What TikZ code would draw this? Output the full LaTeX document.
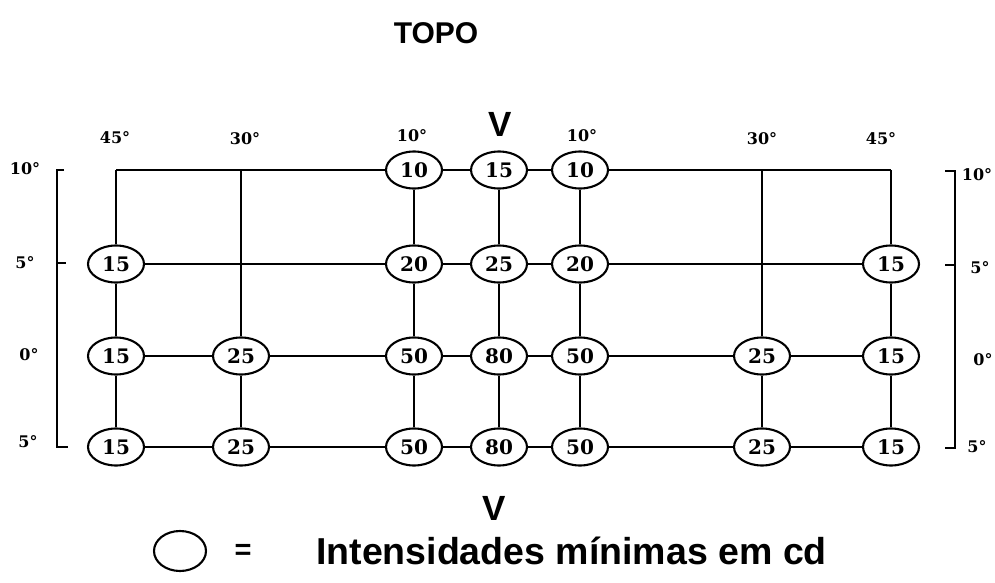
\documentclass[tikz,border=0pt]{standalone}
\usepackage{fontspec}
\setmainfont{DejaVu Serif}
\newfontfamily\hsans{Liberation Sans}
\usetikzlibrary{shapes.geometric}
\pgfdeclarelayer{bg}
\pgfsetlayers{bg,main}
\begin{document}
\begin{tikzpicture}[x=1pt,y=-1pt,
  lamp/.style={ellipse,draw,line width=2.1pt,fill=white,minimum width=56pt,minimum height=37pt,inner sep=0pt,font=\fontsize{20}{20}\selectfont\bfseries},
  gridline/.style={line width=1.5pt},
  bracket/.style={line width=1.8pt},
  deg/.style={font=\fontsize{16}{16}\selectfont\bfseries,inner sep=0pt},
  bigsans/.style={font=\hsans\bfseries\fontsize{29}{29}\selectfont,inner sep=0pt}]
\useasboundingbox (0,0) rectangle (995,583);
% nodes row 1
\coordinate (n11) at (116,170);
\coordinate (n21) at (241,170);
\node[lamp] (n31) at (414,170) {10};
\node[lamp] (n41) at (499,170) {15};
\node[lamp] (n51) at (580,170) {10};
\coordinate (n61) at (762,170);
\coordinate (n71) at (891,170);
% row 2
\node[lamp] (n12) at (116,264) {15};
\coordinate (n22) at (241,264);
\node[lamp] (n32) at (414,264) {20};
\node[lamp] (n42) at (499,264) {25};
\node[lamp] (n52) at (580,264) {20};
\coordinate (n62) at (762,264);
\node[lamp] (n72) at (891,264) {15};
% row 3
\node[lamp] (n13) at (116,356) {15};
\node[lamp] (n23) at (241,356) {25};
\node[lamp] (n33) at (414,356) {50};
\node[lamp] (n43) at (499,356) {80};
\node[lamp] (n53) at (580,356) {50};
\node[lamp] (n63) at (762,356) {25};
\node[lamp] (n73) at (891,356) {15};
% row 4
\node[lamp] (n14) at (116,447) {15};
\node[lamp] (n24) at (241,447) {25};
\node[lamp] (n34) at (414,447) {50};
\node[lamp] (n44) at (499,447) {80};
\node[lamp] (n54) at (580,447) {50};
\node[lamp] (n64) at (762,447) {25};
\node[lamp] (n74) at (891,447) {15};
\begin{pgfonlayer}{bg}
\foreach \r in {1,2,3,4}{
  \draw[gridline] (n1\r) -- (n2\r) -- (n3\r) -- (n4\r) -- (n5\r) -- (n6\r) -- (n7\r);
}
\foreach \c in {1,...,7}{
  \draw[gridline] (n\c1) -- (n\c2) -- (n\c3) -- (n\c4);
}
\end{pgfonlayer}
% column labels
\node[deg] (t1) at (115,138) {45°};
\node[deg] (t2) at (245,139) {30°};
\node[deg] (t3) at (412,136) {10°};
\node[deg] (t5) at (582,136) {10°};
\node[deg] (t6) at (762,139) {30°};
\node[deg] (t7) at (881,139) {45°};
% row labels left
\node[deg] (l1) at (25,169) {10°};
\node[deg] (l2) at (25,263) {5°};
\node[deg] (l3) at (29,355) {0°};
\node[deg] (l4) at (28,442) {5°};
% row labels right
\node[deg] (r1) at (977,175) {10°};
\node[deg] (r2) at (980,268) {5°};
\node[deg] (r3) at (983,360) {0°};
\node[deg] (r4) at (977,447) {5°};
% brackets
\coordinate (lbt) at (64,170);
\coordinate (lbta) at (57,170);
\coordinate (lbb) at (57,447);
\coordinate (lbba) at (68,447);
\draw[bracket] (lbt) -- (lbta) -- (lbb) -- (lbba);
\coordinate (lbm) at (57,263);
\coordinate (lbma) at (66,263);
\draw[bracket] (lbm) -- (lbma);
\coordinate (rbt) at (945,171);
\coordinate (rbta) at (955,171);
\coordinate (rbb) at (955,448);
\coordinate (rbba) at (945,448);
\draw[bracket] (rbt) -- (rbta) -- (rbb) -- (rbba);
\coordinate (rbm) at (955,265);
\coordinate (rbma) at (945,265);
\draw[bracket] (rbm) -- (rbma);
% titles
\node[bigsans,font=\hsans\bfseries\fontsize{30}{30}\selectfont] (topo) at (436,33) {TOPO};
\node[bigsans,font=\hsans\bfseries\fontsize{35}{35}\selectfont] (vtop) at (500,124) {V};
\node[bigsans,font=\hsans\bfseries\fontsize{35}{35}\selectfont] (vbot) at (494,508) {V};
% legend
\node[lamp,minimum width=52pt,minimum height=40pt] (leg) at (180,551) {};
\node[bigsans] (eq) at (243,552) {=};
\node[bigsans,font=\hsans\bfseries\fontsize{37.5}{37.5}\selectfont,anchor=west] (legt) at (316,551) {Intensidades mínimas em cd};
\end{tikzpicture}
\end{document}
